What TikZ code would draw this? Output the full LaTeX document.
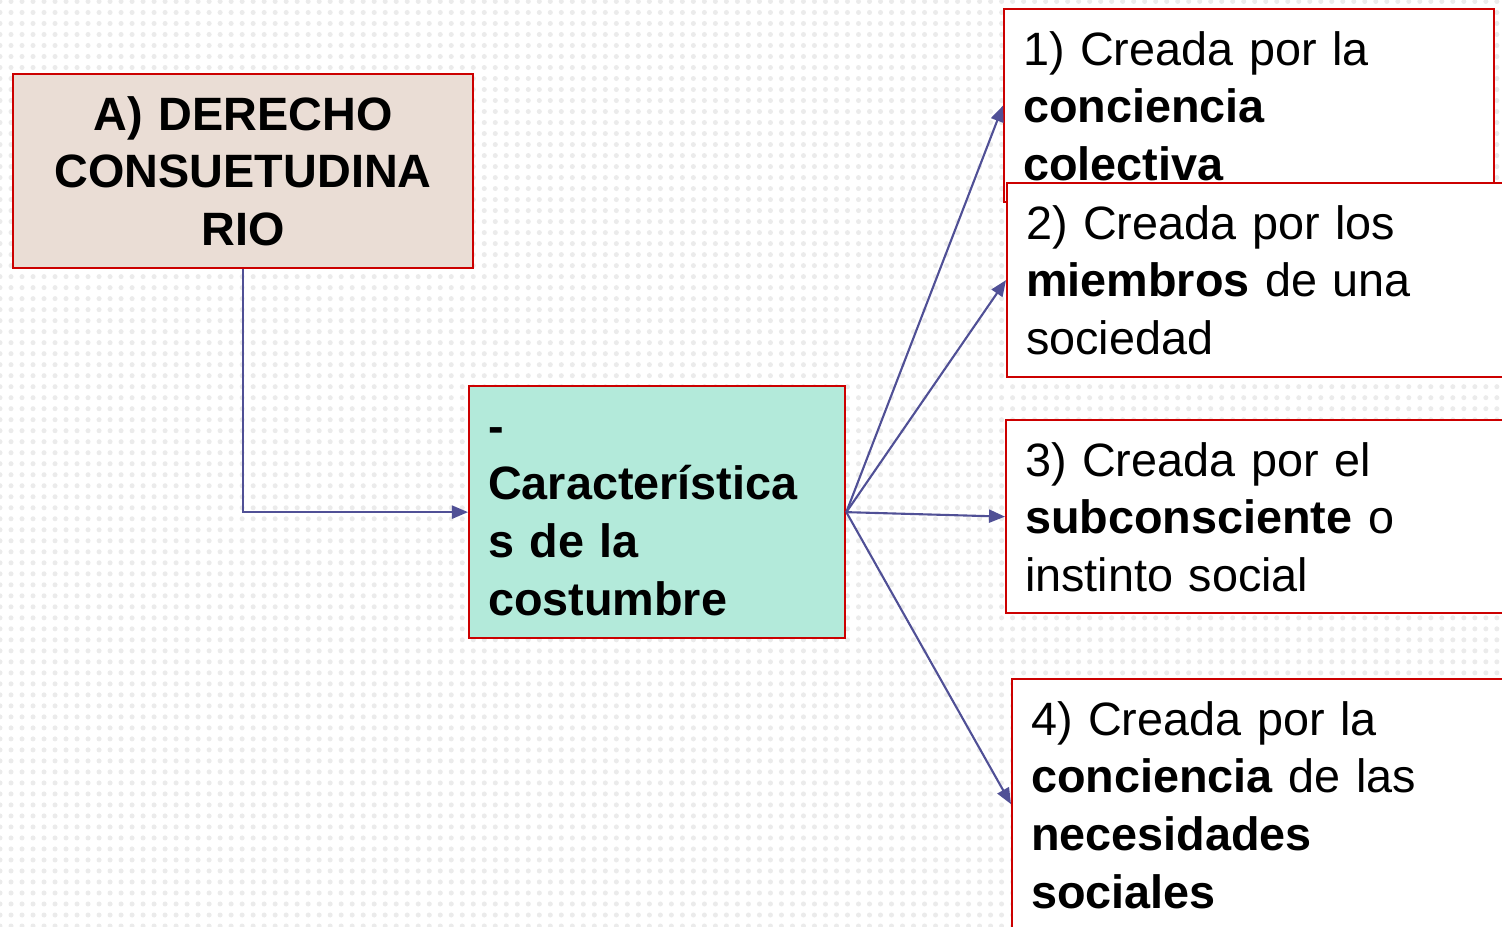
\documentclass[tikz,border=0pt]{standalone}
\usepackage{fontspec}
\setmainfont{Liberation Sans}
\usetikzlibrary{arrows.meta,patterns.meta}

\definecolor{boxred}{RGB}{204,0,0}
\definecolor{linkblue}{RGB}{80,80,150}
\definecolor{derechofill}{RGB}{234,221,213}
\definecolor{costumbrefill}{RGB}{179,234,218}

\begin{document}
\begin{tikzpicture}[x=0.01cm, y=-0.01cm,
  box/.style={draw=boxred, line width=0.6pt, anchor=north west, inner xsep=0.19cm, inner ysep=0pt,
    text height=0.56cm, font=\fontsize{13.3}{16.4}\selectfont},
  link/.style={draw=linkblue, line width=0.6pt, -{Triangle[length=0.16cm, width=0.13cm]}}]
\useasboundingbox (0,0) rectangle (1502,926);
\clip (0,0) rectangle (1502,926);

% Dotted background
\fill[white] (0,0) rectangle (1502,926);
\fill[pattern={Dots[radius=0.025cm, distance=0.11cm]}, pattern color=black!8] (0,0) rectangle (1502,926);

% Main boxes
\node[box, fill=derechofill, text width=4.22cm, text depth=1.38cm, align=center, font=\fontsize{13.3}{16.4}\selectfont\bfseries]
  (derecho) at (12,73) {A) DERECHO\\CONSUETUDINA\\RIO};
\node[box, fill=costumbrefill, text width=3.38cm, text depth=1.96cm, align=left, font=\fontsize{13.3}{16.4}\selectfont\bfseries]
  (costumbre) at (468,385) {-\\Característica\\s de la\\costumbre};

% Characteristics
\node[box, fill=white, text width=4.52cm, text depth=1.37cm, align=left]
  (c1) at (1003,8) {1) Creada por la\\\textbf{conciencia}\\\textbf{colectiva}};
\node[box, fill=white, text width=4.8cm, text depth=1.38cm, align=left]
  (c2) at (1006,182) {2) Creada por los\\\textbf{miembros} de una\\sociedad};
\node[box, fill=white, text width=4.8cm, text depth=1.37cm, align=left]
  (c3) at (1005,419) {3) Creada por el\\\textbf{subconsciente} o\\instinto social};
\node[box, fill=white, text width=4.8cm, text depth=1.94cm, align=left]
  (c4) at (1011,678) {4) Creada por la\\\textbf{conciencia} de las\\\textbf{necesidades}\\\textbf{sociales}};

% Arrows
\draw[link] (derecho.south) |- (costumbre.west);
\draw[link] (costumbre.east) -- (c1.west);
\draw[link] (costumbre.east) -- (c2.west);
\draw[link] (costumbre.east) -- (c3.west);
\draw[link] (costumbre.east) -- (c4.west);

\end{tikzpicture}
\end{document}
